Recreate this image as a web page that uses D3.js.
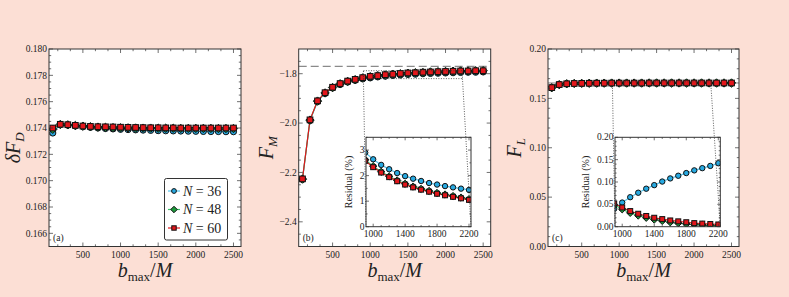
<!DOCTYPE html>
<html><head><meta charset="utf-8">
<script src="https://cdn.jsdelivr.net/npm/d3@7"></script>
<style>
html,body{margin:0;padding:0;background:#fcdfd5;}
svg{display:block;}
</style></head><body>
<svg id="chart" width="789" height="297" font-family="'Liberation Serif', 'Times New Roman', 'DejaVu Serif', serif"></svg>
<script>
// ---------------- data ----------------
const bmax = [100,200,300,400,500,600,700,800,900,1000,1100,1200,1300,1400,1500,1600,1700,1800,1900,2000,2100,2200,2300,2400,2500];
const seriesNames = ["N = 36","N = 48","N = 60"];
const seriesN = ["36","48","60"];

const dFD_N36 = [0.17362,0.17425,0.17422,0.17415,0.17410,0.17405,0.17400,0.17396,0.17393,0.17390,0.17388,0.17386,0.17384,0.17382,0.17380,0.17379,0.17378,0.17377,0.17376,0.17375,0.17374,0.17373,0.17373,0.17372,0.17372];
const dFD_N48 = [0.17390,0.17427,0.17424,0.17419,0.17414,0.17410,0.17407,0.17405,0.17403,0.17402,0.17401,0.17400,0.17399,0.17399,0.17398,0.17398,0.17398,0.17397,0.17397,0.17397,0.17397,0.17397,0.17396,0.17396,0.17396];
const dFD_N60 = [0.17400,0.17428,0.17425,0.17420,0.17415,0.17412,0.17410,0.17409,0.17408,0.17406,0.17405,0.17404,0.17403,0.17402,0.17402,0.17401,0.17401,0.17400,0.17400,0.17400,0.17400,0.17400,0.17400,0.17400,0.17400];

const FM_N36 = [-2.228,-1.990,-1.913,-1.880,-1.858,-1.844,-1.834,-1.827,-1.821,-1.817,-1.813,-1.810,-1.807,-1.805,-1.803,-1.802,-1.800,-1.799,-1.798,-1.797,-1.796,-1.795,-1.794,-1.794,-1.793];
const FM_N48 = [-2.227,-1.988,-1.911,-1.878,-1.856,-1.841,-1.831,-1.824,-1.817,-1.812,-1.808,-1.805,-1.802,-1.800,-1.798,-1.796,-1.795,-1.793,-1.792,-1.791,-1.790,-1.789,-1.789,-1.788,-1.788];
const FM_N60 = [-2.226,-1.987,-1.910,-1.877,-1.855,-1.840,-1.830,-1.823,-1.816,-1.811,-1.808,-1.804,-1.802,-1.799,-1.797,-1.796,-1.794,-1.793,-1.792,-1.791,-1.790,-1.789,-1.789,-1.788,-1.788];
const FM_ref = -1.77;

const FL_N36 = [0.1606,0.1638,0.1647,0.1650,0.1652,0.1653,0.1654,0.1654,0.1655,0.1655,0.1655,0.1655,0.1655,0.1654,0.1654,0.1654,0.1654,0.1654,0.1654,0.1653,0.1653,0.1653,0.1653,0.1653,0.1653];
const FL_N48 = [0.1608,0.1639,0.1648,0.1651,0.1652,0.1653,0.1654,0.1654,0.1655,0.1655,0.1655,0.1655,0.1655,0.1656,0.1656,0.1656,0.1656,0.1656,0.1656,0.1656,0.1656,0.1656,0.1656,0.1656,0.1656];
const FL_N60 = [0.1609,0.1640,0.1648,0.1651,0.1652,0.1653,0.1654,0.1654,0.1655,0.1655,0.1655,0.1655,0.1655,0.1656,0.1656,0.1656,0.1656,0.1656,0.1656,0.1656,0.1656,0.1656,0.1656,0.1656,0.1656];
const FL_ref = 0.1656;

// residual insets (%)
const bInset = [900,1000,1100,1200,1300,1400,1500,1600,1700,1800,1900,2000,2100,2200];
const resFM_N36 = [2.90,2.64,2.42,2.25,2.10,1.98,1.88,1.79,1.71,1.65,1.59,1.54,1.49,1.44];
const resFM_N48 = [2.62,2.37,2.15,1.97,1.81,1.68,1.57,1.48,1.40,1.32,1.26,1.20,1.14,1.08];
const resFM_N60 = [2.58,2.33,2.12,1.94,1.78,1.65,1.54,1.45,1.37,1.29,1.23,1.17,1.11,1.05];
const resFL_N36 = [0.040,0.054,0.066,0.076,0.085,0.093,0.101,0.108,0.114,0.120,0.126,0.131,0.136,0.142];
const resFL_N48 = [0.049,0.039,0.031,0.025,0.020,0.016,0.013,0.010,0.008,0.006,0.005,0.004,0.003,0.002];
const resFL_N60 = [0.052,0.043,0.035,0.029,0.024,0.020,0.017,0.014,0.012,0.010,0.008,0.007,0.006,0.005];

const xTicks = [500,1000,1500,2000,2500];
const insetXTicks = [1000,1400,1800,2200];
const yTicksA = [0.166,0.168,0.170,0.172,0.174,0.176,0.178,0.180];
const yTicksB = [-2.4,-2.2,-2.0,-1.8];
const yTicksC = [0.00,0.05,0.10,0.15,0.20];
const yTicksBInset = [0,1,2,3];
const yTicksCInset = [0.00,0.05,0.10,0.15,0.20];

// ---------------- style ----------------
const fillCol = ["#27a9e1","#1d9a3c","#e3161b"];
const lineCol = ["#55c6ee","#3cc36a","#e3161b"];
const shapes = ["circle","diamond","square"];

const svg = d3.select("#chart");
let clipId = 0;

function marker(g, shape, x, y, s, i){
  if(shape==="circle"){
    g.append("circle").attr("cx",x).attr("cy",y).attr("r",s)
     .attr("fill",fillCol[i]).attr("stroke","#111").attr("stroke-width",1);
  } else if(shape==="square"){
    const q=s*0.92;
    g.append("rect").attr("x",x-q).attr("y",y-q).attr("width",2*q).attr("height",2*q)
     .attr("fill",fillCol[i]).attr("stroke","#111").attr("stroke-width",1);
  } else {
    const d=s*1.35;
    g.append("path").attr("d",`M${x},${y-d}L${x+d},${y}L${x},${y+d}L${x-d},${y}Z`)
     .attr("fill",fillCol[i]).attr("stroke","#111").attr("stroke-width",1);
  }
}

function ticksOnFrame(g, x, y, majX, minX, majY, minY, L, Lm){
  const [x0,x1]=x.range(), [y0,y1]=y.range();
  const t = g.append("g").attr("stroke","#333").attr("stroke-width",0.7);
  majX.forEach(v=>{const p=x(v);
    t.append("line").attr("x1",p).attr("x2",p).attr("y1",y0).attr("y2",y0-L);
    t.append("line").attr("x1",p).attr("x2",p).attr("y1",y1).attr("y2",y1+L);});
  minX.forEach(v=>{const p=x(v);
    t.append("line").attr("x1",p).attr("x2",p).attr("y1",y0).attr("y2",y0-Lm);
    t.append("line").attr("x1",p).attr("x2",p).attr("y1",y1).attr("y2",y1+Lm);});
  majY.forEach(v=>{const p=y(v);
    t.append("line").attr("y1",p).attr("y2",p).attr("x1",x0).attr("x2",x0+L);
    t.append("line").attr("y1",p).attr("y2",p).attr("x1",x1).attr("x2",x1-L);});
  minY.forEach(v=>{const p=y(v);
    t.append("line").attr("y1",p).attr("y2",p).attr("x1",x0).attr("x2",x0+Lm);
    t.append("line").attr("y1",p).attr("y2",p).attr("x1",x1).attr("x2",x1-Lm);});
}

function range(a,b,s){const r=[];for(let v=a;v<=b+1e-9;v+=s)r.push(+v.toFixed(6));return r;}
const fmtMinus = s => s.replace("-","\u2212");

function drawSeries(g, x, y, xs, data, r, clip){
  const gg = g.append("g").attr("clip-path",`url(#${clip})`);
  data.forEach((ys,i)=>{
    const pts = xs.map((b,k)=>[x(b),y(ys[k])]);
    gg.append("path").attr("d",d3.line()(pts)).attr("fill","none")
      .attr("stroke",lineCol[i]).attr("stroke-width",1.2);
  });
  data.forEach((ys,i)=>{
    xs.forEach((b,k)=>marker(gg,shapes[i],x(b),y(ys[k]),r,i));
  });
}

function makeClip(x0,y0,w,h){
  const id="clip"+(clipId++);
  svg.append("clipPath").attr("id",id).append("rect").attr("x",x0).attr("y",y0).attr("width",w).attr("height",h);
  return id;
}

function panel(cfg){
  const {left,right,top,bottom,ydom,yTicks,yMinor,yFmt,data,label,ylab,ylabX} = cfg;
  const x = d3.scaleLinear().domain([50,2600]).range([left,right]);
  const y = d3.scaleLinear().domain(ydom).range([bottom,top]);
  const g = svg.append("g");
  g.append("rect").attr("x",left).attr("y",top).attr("width",right-left).attr("height",bottom-top).attr("fill","#fff");
  const clip = makeClip(left,top,right-left,bottom-top);
  if(cfg.refLine!==undefined){
    g.append("line").attr("x1",left).attr("x2",right).attr("y1",y(cfg.refLine)).attr("y2",y(cfg.refLine))
     .attr("stroke",cfg.refDash?"#8a8a8a":"#777").attr("stroke-width",cfg.refDash?1.3:0.9)
     .attr("stroke-dasharray",cfg.refDash?"8,4":null);
  }
  drawSeries(g,x,y,bmax,data,3.1,clip);
  ticksOnFrame(g,x,y,xTicks,range(500/3,2600,500/3).filter(v=>v>50&&v<2600&&Math.abs(v%500)>1),yTicks,yMinor,4,2.2);
  g.append("rect").attr("x",left).attr("y",top).attr("width",right-left).attr("height",bottom-top)
   .attr("fill","none").attr("stroke","#333").attr("stroke-width",1);
  xTicks.forEach(v=>g.append("text").attr("x",x(v)).attr("y",bottom+11).attr("text-anchor","middle")
    .attr("font-size",9.5).attr("fill","#222").text(v));
  yTicks.forEach(v=>g.append("text").attr("x",left-2).attr("y",y(v)+3.2).attr("text-anchor","end")
    .attr("font-size",9.5).attr("fill","#222").text(fmtMinus(d3.format(yFmt)(v))));
  g.append("text").attr("x",left+4).attr("y",bottom-6).attr("font-size",9.5).attr("fill","#222").text(label);
  const xl = g.append("text").attr("x",(left+right)/2).attr("y",277).attr("text-anchor","middle").attr("font-size",20).attr("fill","#222");
  xl.append("tspan").attr("font-style","italic").text("b");
  xl.append("tspan").attr("font-size",13).attr("dy",4).text("max");
  xl.append("tspan").attr("dy",-4).text("/");
  xl.append("tspan").attr("font-style","italic").text("M");
  const yl = g.append("text").attr("transform",`translate(${ylabX},${(top+bottom)/2}) rotate(-90)`)
    .attr("text-anchor","middle").attr("font-size",20).attr("fill","#222");
  ylab(yl);
  return {x,y,g};
}

function inset(P, cfg){
  const {box,ydom,yTicks,yMinor,yFmt,data,rect} = cfg;
  const [ix0,iy0,ix1,iy1] = box;
  const xi = d3.scaleLinear().domain([910,2225]).range([ix0,ix1]);
  const yi = d3.scaleLinear().domain(ydom).range([iy1,iy0]);
  const g = P.g;
  const rx0=P.x(910), rx1=P.x(2225), ry0=P.y(rect[1]), ry1=P.y(rect[0]);
  g.append("rect").attr("x",rx0).attr("y",ry0).attr("width",rx1-rx0).attr("height",ry1-ry0)
   .attr("fill","none").attr("stroke","#333").attr("stroke-width",0.8).attr("stroke-dasharray","1,1.5");
  g.append("rect").attr("x",ix0).attr("y",iy0).attr("width",ix1-ix0).attr("height",iy1-iy0).attr("fill","#fff");
  const clip = makeClip(ix0,iy0,ix1-ix0,iy1-iy0);
  drawSeries(g,xi,yi,bInset,data,2.7,clip);
  ticksOnFrame(g,xi,yi,insetXTicks,range(1000,2200,100).filter(v=>insetXTicks.indexOf(v)<0),yTicks,yMinor,3,1.6);
  g.append("rect").attr("x",ix0).attr("y",iy0).attr("width",ix1-ix0).attr("height",iy1-iy0)
   .attr("fill","none").attr("stroke","#333").attr("stroke-width",1);
  insetXTicks.forEach(v=>g.append("text").attr("x",xi(v)).attr("y",iy1+10).attr("text-anchor","middle")
    .attr("font-size",9.5).attr("fill","#222").text(v));
  yTicks.forEach(v=>g.append("text").attr("x",ix0-1.5).attr("y",yi(v)+3).attr("text-anchor","end")
    .attr("font-size",9.5).attr("fill","#222").text(d3.format(yFmt)(v)));
  g.append("text").attr("transform",`translate(${cfg.resX},${(iy0+iy1)/2}) rotate(-90)`)
   .attr("text-anchor","middle").attr("font-size",10).attr("fill","#222").text("Residual (%)");
  [[rx0,ix0],[rx1,ix1]].forEach(([a,b])=>{
    g.append("line").attr("x1",a).attr("y1",ry1).attr("x2",b).attr("y2",iy1)
     .attr("stroke","#333").attr("stroke-width",0.8).attr("stroke-dasharray","1,1.5");
  });
}

// panel (a)
const PA = panel({left:49,right:241,top:49,bottom:246.5,ydom:[0.165,0.180],yTicks:yTicksA,
  yMinor:range(0.1655,0.1795,0.0005).filter(v=>Math.abs(Math.round(v*500)-v*500)>0.1),yFmt:".3f",
  data:[dFD_N36,dFD_N48,dFD_N60],label:"(a)",ylabX:20,
  ylab:t=>{t.append("tspan").attr("font-style","italic").text("\u03B4F");
           t.append("tspan").attr("font-style","italic").attr("font-size",13).attr("dy",4).text("D");}});

// legend
(function(){
  const g=PA.g.append("g");
  g.append("rect").attr("x",164.5).attr("y",178.5).attr("width",63).attr("height",61.5).attr("rx",2)
   .attr("fill","#fff").attr("stroke","#333").attr("stroke-width",1);
  const rows=[191,209.5,228];
  seriesNames.forEach((n,i)=>{
    g.append("line").attr("x1",168).attr("x2",180).attr("y1",rows[i]).attr("y2",rows[i])
     .attr("stroke",lineCol[i]).attr("stroke-width",1.2);
    marker(g,shapes[i],174,rows[i],2.4,i);
    const t=g.append("text").attr("x",183).attr("y",rows[i]+4.5).attr("font-size",14).attr("fill","#222");
    t.append("tspan").attr("font-style","italic").text("N");
    t.append("tspan").text(" = "+seriesN[i]);
  });
})();

// panel (b)
const PB = panel({left:298.7,right:490.7,top:49,bottom:246.5,ydom:[-2.5,-1.7],yTicks:yTicksB,
  yMinor:range(-2.45,-1.75,0.05).filter(v=>Math.abs(Math.round(v*5)-v*5)>0.05),yFmt:".1f",
  data:[FM_N36,FM_N48,FM_N60],label:"(b)",ylabX:273,refLine:FM_ref,refDash:true,
  ylab:t=>{t.append("tspan").attr("font-style","italic").text("F");
           t.append("tspan").attr("font-style","italic").attr("font-size",13).attr("dy",4).text("M");}});
inset(PB,{box:[366,137.3,471,226.7],ydom:[0,3.5],yTicks:yTicksBInset,yMinor:[0.5,1.5,2.5,3.5],
  yFmt:"d",data:[resFM_N36,resFM_N48,resFM_N60],rect:[-1.820,-1.788],resX:352});

// panel (c)
const PC = panel({left:548,right:739,top:49,bottom:246.5,ydom:[0,0.2],yTicks:yTicksC,
  yMinor:range(0.01,0.19,0.01).filter(v=>Math.round(v*100)%5!==0),yFmt:".2f",
  data:[FL_N36,FL_N48,FL_N60],label:"(c)",ylabX:521,refLine:FL_ref,refDash:false,
  ylab:t=>{t.append("tspan").attr("font-style","italic").text("F");
           t.append("tspan").attr("font-style","italic").attr("font-size",13).attr("dy",4).text("L");}});
inset(PC,{box:[615,137.3,720.3,226.7],ydom:[0,0.2],yTicks:yTicksCInset,yMinor:range(0.01,0.19,0.01).filter(v=>Math.round(v*100)%5!==0),
  yFmt:".2f",data:[resFL_N36,resFL_N48,resFL_N60],rect:[0.1632,0.1668],resX:589});
</script></body></html>
